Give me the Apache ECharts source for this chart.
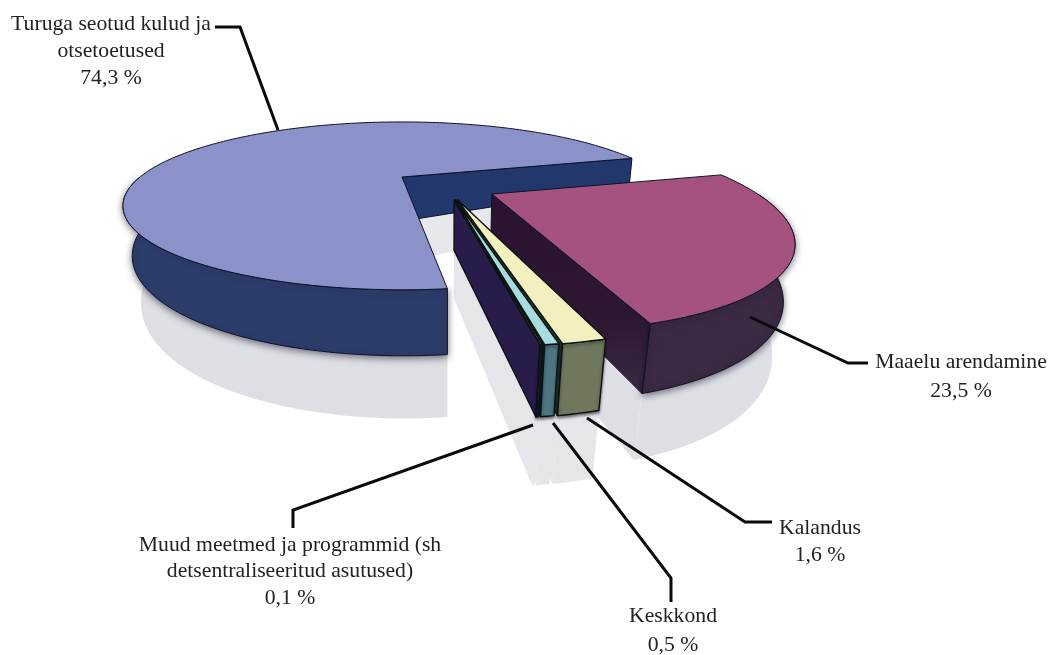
<!DOCTYPE html>
<html><head><meta charset="utf-8">
<style>html,body{margin:0;padding:0;background:#fff}#c{width:1052px;height:655px}</style>
<script src="https://cdn.jsdelivr.net/npm/echarts@6/dist/echarts.min.js"></script>
</head><body><div id="c"></div>
<script>
// ---- data (clockwise order, starting from the back-right edge) ----
const categories = ['Maaelu arendamine','Kalandus','Keskkond','Muud meetmed ja programmid (sh detsentraliseeritud asutused)','Turuga seotud kulud ja otsetoetused'];
const shares = [23.5, 1.6, 0.5, 0.1, 74.3];
const labelLines = [
  ['Maaelu arendamine'],
  ['Kalandus'],
  ['Keskkond'],
  ['Muud meetmed ja programmid (sh','detsentraliseeritud asutused)'],
  ['Turuga seotud kulud ja','otsetoetused']
];
// ---- styling / layout ----
const explodeU = [0.318, 0.192, 0.184, 0.180, 0];
const explodeV = [0.213, 0.281, 0.281, 0.281, 0];
const radiusU = [0.94, 1, 1, 1, 1];
const sweepScale = [1.05, 1, 1, 1, 0.974];
const gapBefore = [0, 0.6, 0, 0, 0.1];
const topColors = ['#a5527f','#f2f0bf','#a6dcdd','#20352c','#8a92c9'];
const sideColors = ['#3a2a42','#6f785c','#4d7680','#1b1a38','#2d3d6a'];
const wallColors = ['#2b1632','#1f3528','#1c3038','#281c4a','#22376b'];
const labelX = [961, 820, 673, 290, 111];
const labelY = [[362,391],[528,555],[616,645],[545,571,598],[24,51,78]];
const leaders = [
  [[750,317],[848,363],[868,363]],
  [[587,418],[745,522],[772,522]],
  [[553,423],[671,578],[671,602]],
  [[533,425],[293,510],[293,528]],
  [[215,27],[240,27],[278,130]]
];
const START = -14, X0 = 402, Y0 = 177, A = 262, B = 74, K = 0.344, VPX = 447, VPY = 2000;

function proj(u, v) { const d = 1 - K * v; return [X0 + A * u / d, Y0 + B * v / d]; }
function depth(v) { return v >= 0 ? 44 + 22 * v : 44 + 63 * v; }
function down(u, v, f) {
  const p = proj(u, v), h = depth(v) * (f === undefined ? 1 : f);
  return [p[0] + (VPX - p[0]) * h / (VPY - p[1]), p[1] + h];
}
const total = shares.reduce((a, b) => a + b, 0);
function span(i) {
  let s = START;
  for (let j = 0; j <= i; j++) {
    s += gapBefore[j];
    if (j < i) s += shares[j] / total * 360 * sweepScale[j];
  }
  return [s, s + shares[i] / total * 360 * sweepScale[i]];
}
function rim(i, s, e) {
  const out = [], n = Math.max(2, Math.ceil(e - s) + 1);
  for (let t = 0; t < n; t++) {
    const a = (s + (e - s) * t / (n - 1)) * Math.PI / 180;
    out.push([explodeU[i] + radiusU[i] * Math.cos(a), explodeV[i] + Math.sin(a)]);
  }
  return out;
}
function sideRange(i) { const r = span(i); return i === 4 ? [r[0], 180] : [Math.max(r[0], 0), r[1]]; }
function poly(points, fill, stroke, lw, extra) {
  return { type: 'polygon', shape: { points }, style: Object.assign({ fill, stroke: stroke || null, lineWidth: lw || 0, lineJoin: 'round' }, extra || {}) };
}
function faces(params, api) {
  const i = api.value(0), r = span(i), U = explodeU[i], V = explodeV[i];
  const thin = i >= 1 && i <= 3;
  const edge = thin ? '#0b120f' : '#0e1226', lw = thin ? 1.4 : 1;
  const arc = rim(i, r[0], r[1]);
  const end = arc[arc.length - 1];
  const sr = sideRange(i), sa = rim(i, sr[0], sr[1]);
  const wall = [proj(U, V), proj(end[0], end[1]), down(end[0], end[1]), down(U, V)];
  const side = sa.map(p => proj(p[0], p[1])).concat(sa.map(p => down(p[0], p[1])).reverse());
  const top = [proj(U, V)].concat(arc.map(p => proj(p[0], p[1])));
  const wallFill = i === 0 ? new echarts.graphic.LinearGradient(0, 0, 0, 1, [
    { offset: 0, color: '#2a1430' }, { offset: 0.6, color: '#2c1632' }, { offset: 1, color: '#3a2a42' }]) : wallColors[i];
  return { type: 'group', children: [
    poly(wall, wallFill, edge, lw),
    poly(side, sideColors[i], edge, lw, { shadowBlur: i === 0 || i === 4 ? 7 : 3, shadowColor: 'rgba(15,15,35,.55)', shadowOffsetY: 2 }),
    poly(top, topColors[i], edge, lw)
  ] };
}
function mirror(i, a) {
  const lo = a.map(p => down(p[0], p[1]));
  const hi = a.map(p => down(p[0], p[1], 1.95));
  return lo.concat(hi.reverse());
}
function reflections(params, api) {
  const i = api.value(0), r = span(i), U = explodeU[i], V = explodeV[i];
  const arc = rim(i, r[0], r[1]), end = arc[arc.length - 1];
  const sr = sideRange(i), sa = rim(i, sr[0], sr[1]);
  const c = i >= 1 && i <= 3 ? '#e6e6ea' : '#dedee5';
  return { type: 'group', children: [
    poly(mirror(i, [[U, V], end]), i === 4 ? '#e7e7ec' : c),
    poly(mirror(i, sa), c)
  ] };
}
const rows = shares.map((v, i) => [i, v, categories[i]]);
const graphics = [];
leaders.forEach(pts => graphics.push({ type: 'polyline', z: 20, shape: { points: pts }, style: { stroke: '#0a0a0a', lineWidth: 3, fill: null, lineJoin: 'miter' } }));
labelLines.forEach((lines, i) => {
  const all = lines.concat([shares[i].toFixed(1).replace('.', ',') + ' %']);
  all.forEach((t, j) => graphics.push({ type: 'text', z: 21, x: labelX[i], y: labelY[i][j],
    style: { text: t, fill: '#222', font: '21.7px "Liberation Serif"', align: 'center', verticalAlign: 'middle' } }));
});
const chart = echarts.init(document.getElementById('c'));
chart.setOption({
  animation: false, backgroundColor: '#fff',
  series: [
    { type: 'custom', coordinateSystem: 'none', silent: true, z: 1, data: rows, renderItem: reflections },
    { type: 'custom', coordinateSystem: 'none', silent: true, z: 2, data: [rows[4], rows[0], rows[1], rows[2], rows[3]], renderItem: faces }
  ],
  graphic: graphics
});
</script></body></html>
